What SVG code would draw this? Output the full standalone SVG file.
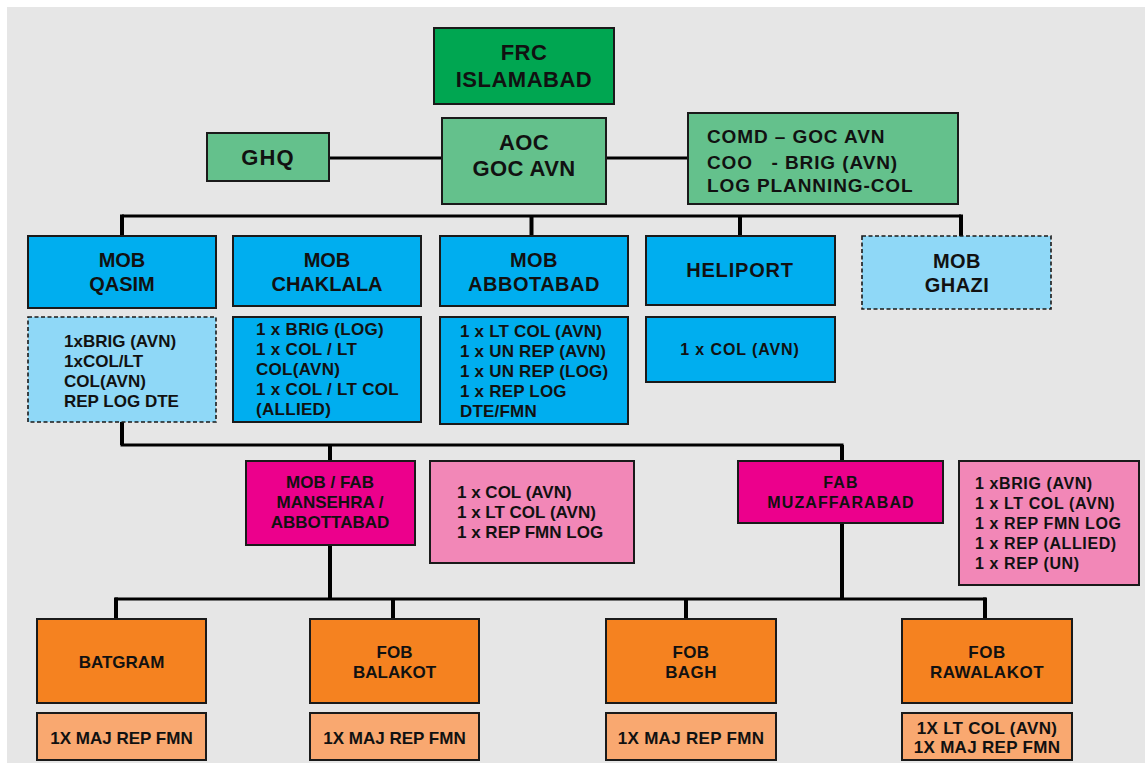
<svg xmlns="http://www.w3.org/2000/svg" width="1145" height="763" viewBox="0 0 1145 763">
<style>
.b{stroke:#1a1a1a;stroke-width:2}
.d{stroke:#1a1a1a;stroke-width:1.6;stroke-dasharray:4 2.5}
.g1{fill:#00a651}.g2{fill:#64c18c}.bl{fill:#00aeef}.lb{fill:#8fd8f7}.mg{fill:#ec008c}.pk{fill:#f287b7}.or{fill:#f58220}.lo{fill:#f9a870}
text{font-family:"Liberation Sans",Arial,sans-serif;font-weight:bold;fill:#111}
.c{text-anchor:middle}
.t22{font-size:22px}.t20{font-size:20px}.t19{font-size:19px}.t16{font-size:16px}.t17{font-size:17px}
.cn{fill:none;stroke:#000;stroke-width:3}
.dr{fill:none;stroke:#000;stroke-width:4}
</style>
<rect width="1145" height="763" fill="#fff"/>
<rect x="7" y="7" width="1138" height="756" fill="#e6e6e6"/>

<g id="connectors">
<line class="cn" x1="329" y1="158" x2="442" y2="158"/>
<line class="cn" x1="606" y1="158" x2="688" y2="158"/>
<polyline class="cn" points="122,216 961,216"/>
<line class="dr" x1="122" y1="214.5" x2="122" y2="236"/>
<line class="dr" x1="531.5" y1="216" x2="531.5" y2="236"/>
<line class="dr" x1="740" y1="216" x2="740" y2="236"/>
<line class="dr" x1="961" y1="214.5" x2="961" y2="236"/>
<polyline class="cn" points="122,422 122,445 842,445 842,461"/>
<line class="dr" x1="122" y1="422" x2="122" y2="445"/>
<line class="dr" x1="330" y1="445" x2="330" y2="461"/>
<line class="dr" x1="842" y1="445" x2="842" y2="461"/>
<line class="dr" x1="330" y1="545" x2="330" y2="599"/>
<line class="dr" x1="842" y1="523" x2="842" y2="599"/>
<line class="cn" x1="115" y1="599" x2="986" y2="599"/>
<line class="dr" x1="116" y1="597.5" x2="116" y2="619"/>
<line class="dr" x1="393" y1="599" x2="393" y2="619"/>
<line class="dr" x1="686" y1="599" x2="686" y2="619"/>
<line class="dr" x1="985" y1="597.5" x2="985" y2="619"/>
</g>

<g id="frc"><rect class="g1 b" x="434" y="28" width="180" height="76"/>
<text class="c t22" x="524" y="60" letter-spacing="0.5">FRC</text><text class="c t22" x="524" y="87" letter-spacing="0.5">ISLAMABAD</text></g>

<g id="aoc"><rect class="g2 b" x="442" y="118" width="164" height="86"/>
<text class="c t22" x="524" y="150" letter-spacing="0.4">AOC</text><text class="c t22" x="524" y="176" letter-spacing="0.4">GOC AVN</text></g>

<g id="ghq"><rect class="g2 b" x="207" y="133" width="122" height="48"/>
<text class="c t22" x="268" y="165" letter-spacing="1.2">GHQ</text></g>

<g id="comd"><rect class="g2 b" x="688" y="113" width="270" height="91"/>
<text class="t19" x="707" y="143" letter-spacing="0.9">COMD – GOC AVN</text>
<text class="t19" x="707" y="169" letter-spacing="0.9" xml:space="preserve">COO   - BRIG (AVN)</text>
<text class="t19" x="707" y="192" letter-spacing="0.9">LOG PLANNING-COL</text></g>

<g id="mob-qasim"><rect class="bl b" x="28" y="236" width="188" height="72"/>
<text class="c t20" x="122" y="267">MOB</text><text class="c t20" x="122" y="291">QASIM</text></g>
<g id="mob-chaklala"><rect class="bl b" x="233" y="236" width="188" height="70"/>
<text class="c t20" x="327" y="267">MOB</text><text class="c t20" x="327" y="291">CHAKLALA</text></g>
<g id="mob-abbotabad"><rect class="bl b" x="440" y="236" width="188" height="70"/>
<text class="c t20" x="534" y="267" letter-spacing="0.5">MOB</text><text class="c t20" x="534" y="291" letter-spacing="0.5">ABBOTABAD</text></g>
<g id="heliport"><rect class="bl b" x="646" y="236" width="189" height="69"/>
<text class="c t20" x="740" y="277" letter-spacing="0.8">HELIPORT</text></g>
<g id="mob-ghazi"><rect class="lb d" x="862" y="236" width="189" height="73"/>
<text class="c t20" x="957" y="268" letter-spacing="0.5">MOB</text><text class="c t20" x="957" y="292" letter-spacing="0.5">GHAZI</text></g>

<g id="qasim-staff"><rect class="lb d" x="28" y="317" width="188" height="105"/>
<text class="t17" x="64" y="347">1xBRIG (AVN)</text>
<text class="t17" x="64" y="367">1xCOL/LT</text>
<text class="t17" x="64" y="387">COL(AVN)</text>
<text class="t17" x="64" y="407">REP LOG DTE</text></g>
<g id="chaklala-staff"><rect class="bl b" x="233" y="317" width="188" height="105"/>
<text class="t17" x="256" y="335" letter-spacing="0.3">1 x BRIG (LOG)</text>
<text class="t17" x="256" y="355" letter-spacing="0.3">1 x COL / LT</text>
<text class="t17" x="256" y="375" letter-spacing="0.3">COL(AVN)</text>
<text class="t17" x="256" y="395" letter-spacing="0.3">1 x COL / LT COL</text>
<text class="t17" x="256" y="415" letter-spacing="0.3">(ALLIED)</text></g>
<g id="abbotabad-staff"><rect class="bl b" x="440" y="317" width="188" height="107"/>
<text class="t17" x="460" y="337" letter-spacing="0.2">1 x LT COL (AVN)</text>
<text class="t17" x="460" y="357" letter-spacing="0.2">1 x UN REP (AVN)</text>
<text class="t17" x="460" y="377" letter-spacing="0.2">1 x UN REP (LOG)</text>
<text class="t17" x="460" y="397" letter-spacing="0.2">1 x REP LOG</text>
<text class="t17" x="460" y="417" letter-spacing="0.2">DTE/FMN</text></g>
<g id="heliport-staff"><rect class="bl b" x="646" y="317" width="189" height="65"/>
<text class="c t16" x="740" y="355" letter-spacing="0.9">1 x COL (AVN)</text></g>

<g id="mansehra"><rect class="mg b" x="246" y="461" width="169" height="84"/>
<text class="c t17" x="330" y="488">MOB / FAB</text>
<text class="c t17" x="330" y="508">MANSEHRA /</text>
<text class="c t17" x="330" y="528">ABBOTTABAD</text></g>
<g id="mansehra-staff"><rect class="pk b" x="430" y="461" width="204" height="102"/>
<text class="t17" x="457" y="498">1 x COL (AVN)</text>
<text class="t17" x="457" y="518">1 x LT COL (AVN)</text>
<text class="t17" x="457" y="538">1 x REP FMN LOG</text></g>
<g id="muzaffarabad"><rect class="mg b" x="738" y="461" width="205" height="62"/>
<text class="c t16" x="841" y="488" letter-spacing="1.1">FAB</text>
<text class="c t16" x="841" y="508" letter-spacing="1.1">MUZAFFARABAD</text></g>
<g id="muzaffarabad-staff"><rect class="pk b" x="959" y="461" width="180" height="124"/>
<text class="t16" x="975" y="489" letter-spacing="0.6">1 xBRIG (AVN)</text>
<text class="t16" x="975" y="509" letter-spacing="0.6">1 x LT COL (AVN)</text>
<text class="t16" x="975" y="529" letter-spacing="0.6">1 x REP FMN LOG</text>
<text class="t16" x="975" y="549" letter-spacing="0.6">1 x REP (ALLIED)</text>
<text class="t16" x="975" y="569" letter-spacing="0.6">1 x REP (UN)</text></g>

<g id="batgram"><rect class="or b" x="37" y="619" width="169" height="84"/>
<text class="c t17" x="121.5" y="668">BATGRAM</text></g>
<g id="balakot"><rect class="or b" x="310" y="619" width="169" height="84"/>
<text class="c t17" x="394.5" y="658">FOB</text><text class="c t17" x="394.5" y="678">BALAKOT</text></g>
<g id="bagh"><rect class="or b" x="606" y="619" width="170" height="84"/>
<text class="c t17" x="691" y="658" letter-spacing="0.4">FOB</text><text class="c t17" x="691" y="678" letter-spacing="0.4">BAGH</text></g>
<g id="rawalakot"><rect class="or b" x="902" y="619" width="170" height="84"/>
<text class="c t17" x="987" y="658" letter-spacing="0.5">FOB</text><text class="c t17" x="987" y="678" letter-spacing="0.5">RAWALAKOT</text></g>

<g id="batgram-staff"><rect class="lo b" x="37" y="713" width="169" height="47"/>
<text class="c t17" x="121.5" y="744">1X MAJ REP FMN</text></g>
<g id="balakot-staff"><rect class="lo b" x="310" y="713" width="169" height="47"/>
<text class="c t17" x="394.5" y="744">1X MAJ REP FMN</text></g>
<g id="bagh-staff"><rect class="lo b" x="606" y="713" width="170" height="47"/>
<text class="c t17" x="691" y="744" letter-spacing="0.3">1X MAJ REP FMN</text></g>
<g id="rawalakot-staff"><rect class="lo b" x="902" y="713" width="170" height="47"/>
<text class="c t17" x="987" y="734" letter-spacing="0.3">1X LT COL (AVN)</text>
<text class="c t17" x="987" y="753" letter-spacing="0.3">1X MAJ REP FMN</text></g>
</svg>
